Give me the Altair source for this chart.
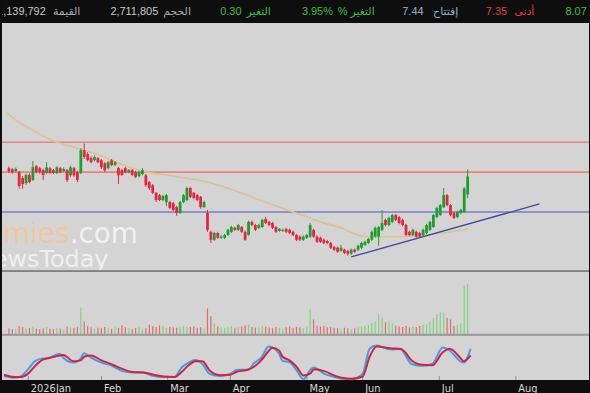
import altair as alt
import pandas as pd

# ---------------- data ----------------
opens = [8.10, 8.07, 8.03, 8.00, 7.85, 7.72, 7.93, 7.80, 8.15, 8.10,
         8.05, 7.98, 8.10, 8.05, 7.98, 8.10, 8.03, 8.05, 7.92, 8.10,
         8.00, 7.98, 8.55, 8.45, 8.35, 8.30, 8.35, 8.30, 8.22, 8.10,
         8.30, 8.18, 8.10, 8.05, 8.10, 8.00, 8.05, 8.00, 7.90, 7.95,
         7.92, 7.75, 7.67, 7.48, 7.42, 7.30, 7.25, 7.25, 7.22, 7.12,
         6.98, 7.25, 7.30, 7.60, 7.48, 7.42, 7.38, 7.12, 6.97, 6.50,
         6.30, 6.47, 6.35, 6.35, 6.42, 6.50, 6.60, 6.55, 6.62, 6.50,
         6.42, 6.75, 6.67, 6.60, 6.62, 6.82, 6.75, 6.72, 6.62, 6.52,
         6.52, 6.57, 6.55, 6.50, 6.42, 6.38, 6.30, 6.35, 6.38, 6.55,
         6.38, 6.35, 6.30, 6.27, 6.22, 6.12, 6.10, 6.02, 6.05, 6.02,
         5.95, 6.05, 6.05, 6.10, 6.17, 6.22, 6.30, 6.38, 6.38, 6.55,
         6.80, 6.67, 6.75, 6.92, 6.87, 6.80, 6.67, 6.50, 6.42, 6.50,
         6.47, 6.42, 6.47, 6.55, 6.62, 6.87, 6.92, 7.12, 7.42, 7.17,
         6.97, 6.87, 6.97, 7.00, 7.44]
closes = [8.02, 8.00, 8.08, 7.65, 7.70, 7.93, 7.75, 8.12, 8.00, 8.00,
          7.93, 8.12, 7.98, 7.98, 8.12, 8.00, 8.08, 7.80, 8.12, 7.92,
          7.80, 8.55, 8.38, 8.30, 8.25, 8.38, 8.25, 8.12, 8.05, 8.25,
          8.18, 8.25, 7.92, 7.93, 8.00, 8.05, 7.93, 7.88, 8.00, 8.05,
          7.67, 7.60, 7.48, 7.30, 7.30, 7.40, 7.42, 7.10, 7.05, 6.97,
          7.25, 7.42, 7.60, 7.38, 7.35, 7.30, 7.12, 7.25, 6.55, 6.30,
          6.47, 6.35, 6.38, 6.42, 6.55, 6.62, 6.55, 6.67, 6.50, 6.30,
          6.75, 6.67, 6.55, 6.67, 6.80, 6.72, 6.67, 6.60, 6.50, 6.57,
          6.55, 6.50, 6.47, 6.42, 6.30, 6.30, 6.38, 6.42, 6.67, 6.38,
          6.25, 6.25, 6.22, 6.22, 6.10, 6.05, 6.00, 6.10, 5.97, 5.95,
          6.05, 6.00, 6.15, 6.22, 6.25, 6.32, 6.50, 6.60, 6.62, 6.72,
          6.67, 6.85, 6.92, 6.80, 6.72, 6.67, 6.42, 6.42, 6.55, 6.38,
          6.38, 6.55, 6.67, 6.75, 6.92, 7.10, 7.17, 7.42, 7.17, 6.92,
          6.85, 7.00, 7.05, 7.59, 7.89]
highs = [8.14, 8.10, 8.12, 8.03, 7.90, 7.96, 7.97, 8.28, 8.18, 8.13,
         8.08, 8.25, 8.13, 8.08, 8.15, 8.13, 8.12, 8.08, 8.16, 8.13,
         8.03, 8.60, 8.72, 8.50, 8.40, 8.42, 8.38, 8.33, 8.25, 8.28,
         8.33, 8.28, 8.13, 8.08, 8.13, 8.08, 8.08, 8.03, 8.03, 8.10,
         7.95, 7.78, 7.70, 7.50, 7.45, 7.43, 7.45, 7.28, 7.25, 7.15,
         7.28, 7.45, 7.63, 7.63, 7.50, 7.45, 7.40, 7.28, 7.05, 6.53,
         6.50, 6.50, 6.42, 6.45, 6.58, 6.65, 6.63, 6.70, 6.65, 6.53,
         6.78, 6.78, 6.70, 6.70, 6.83, 6.88, 6.78, 6.75, 6.65, 6.60,
         6.58, 6.60, 6.58, 6.53, 6.45, 6.41, 6.41, 6.45, 6.72, 6.58,
         6.41, 6.38, 6.33, 6.30, 6.25, 6.15, 6.13, 6.17, 6.08, 6.05,
         6.08, 6.08, 6.18, 6.25, 6.28, 6.35, 6.53, 6.63, 6.65, 7.05,
         6.83, 6.88, 6.95, 6.95, 6.90, 6.83, 6.70, 6.53, 6.58, 6.53,
         6.50, 6.58, 6.70, 6.78, 6.95, 7.13, 7.20, 7.60, 7.45, 7.20,
         7.00, 7.03, 7.08, 7.62, 8.07]
lows = [7.98, 7.96, 8.00, 7.58, 7.58, 7.68, 7.72, 7.78, 7.97, 7.96,
        7.80, 7.95, 7.95, 7.95, 7.95, 7.97, 8.00, 7.75, 7.88, 7.88,
        7.75, 7.95, 8.33, 8.27, 8.22, 8.27, 8.22, 8.08, 8.00, 8.07,
        8.15, 8.15, 7.70, 7.90, 7.97, 7.97, 7.90, 7.85, 7.87, 7.92,
        7.63, 7.55, 7.45, 7.25, 7.27, 7.27, 7.15, 7.07, 7.02, 6.90,
        6.95, 7.22, 7.27, 7.35, 7.32, 7.27, 7.08, 7.10, 6.50, 6.22,
        6.27, 6.32, 6.32, 6.32, 6.40, 6.47, 6.52, 6.52, 6.47, 6.27,
        6.40, 6.64, 6.52, 6.57, 6.60, 6.70, 6.64, 6.57, 6.47, 6.50,
        6.50, 6.47, 6.44, 6.39, 6.27, 6.27, 6.27, 6.32, 6.35, 6.35,
        6.22, 6.22, 6.19, 6.19, 6.07, 6.02, 5.97, 6.00, 5.94, 5.90,
        5.92, 5.97, 6.02, 6.07, 6.14, 6.19, 6.27, 6.35, 6.15, 6.52,
        6.64, 6.64, 6.72, 6.77, 6.69, 6.64, 6.39, 6.39, 6.39, 6.35,
        6.35, 6.39, 6.44, 6.52, 6.60, 6.84, 6.90, 7.10, 7.14, 6.89,
        6.82, 6.84, 6.94, 6.97, 7.35]
volumes_k = [320, 280, 300, 450, 380, 300, 350, 420, 300, 280,
             330, 400, 300, 280, 350, 300, 260, 420, 380, 350,
             400, 1460, 700, 450, 380, 300, 350, 330, 400, 360,
             300, 420, 350, 480, 380, 330, 300, 350, 380, 300,
             330, 520, 450, 400, 480, 420, 350, 400, 380, 360,
             420, 450, 380, 400, 420, 350, 380, 330, 1410, 975,
             600, 420, 380, 350, 400, 450, 330, 380, 420, 480,
             520, 400, 350, 380, 450, 420, 380, 330, 400, 350,
             300, 380, 420, 350, 400, 380, 330, 420, 1350, 810,
             480, 420, 450, 380, 400, 350, 330, 300, 350, 330,
             280, 320, 380, 420, 450, 520, 600, 700, 1080, 900,
             650, 700, 600, 480, 420, 400, 450, 380, 420, 400,
             450, 500, 550, 700, 900, 1100, 1200, 1150, 900, 800,
             450, 500, 600, 2650, 2712]

ma_idx = [-0.55, 3, 7, 12, 20, 28, 30, 39, 48, 58, 62, 68, 74, 83, 91, 97,
          103, 108, 114, 119, 125, 131, 134]
ma_val = [9.475, 9.25, 9.05, 8.825, 8.60, 8.375, 8.30, 8.025, 7.90, 7.75,
          7.65, 7.475, 7.275, 7.00, 6.75, 6.60, 6.40, 6.375, 6.375, 6.40,
          6.45, 6.525, 6.575]

st_idx = [0, 3, 5, 7, 9, 11, 13, 16, 17, 20, 22, 23, 25, 28, 31, 34, 37,
          40, 43, 46, 49, 51, 53, 55, 57, 59, 62, 65, 67, 70, 72, 74, 76,
          77, 79, 80, 82, 84, 86, 88, 89, 92, 95, 97, 100, 103, 105, 107,
          111, 114, 115, 117, 120, 123, 126, 128, 131, 132, 134]
st_k = [9, 5, 9, 25, 43, 48, 50, 59, 50, 39, 48, 60, 50, 39, 32, 20, 17,
        17, 9, 7, 7, 28, 39, 45, 36, 14, 9, 14, 23, 23, 39, 51, 75,
        73, 59, 43, 40, 22, 2, 23, 28, 14, 7, 3, 2, 14, 70, 77,
        68, 70, 59, 36, 32, 36, 73, 66, 42, 39, 70]
st_d = [12, 7, 7, 15, 32, 45, 49, 55, 56, 42, 44, 52, 55, 44, 35, 25, 18,
        17, 12, 8, 7, 18, 33, 42, 42, 22, 11, 12, 19, 23, 31, 45, 65,
        72, 66, 52, 44, 30, 10, 15, 24, 20, 10, 5, 3, 8, 52, 75,
        71, 69, 64, 44, 34, 33, 62, 70, 50, 42, 55]

month_idx = [7, 28, 47, 65, 87, 103, 125, 147]
month_lbl = ["2026Jan", "Feb", "Mar", "Apr", "May", "Jun", "Jul", "Aug"]

level_vals = [8.75, 8.00, 7.00]
level_cols = ["#e98282", "#e98282", "#7a7fcc"]
trend_idx = [100, 155]
trend_val = [5.87, 7.20]

hdr_text = ["1,139,792", "القيمة", "2,711,805", "الحجم", "0.30", "التغير",
            "3.95%", "% التغير", "7.44", "إفتتاح", "7.35", "أدنى", "8.07"]
hdr_col = ["#c8c8c8", "#a8a8a8", "#c8c8c8", "#a8a8a8", "#3cbf4a", "#3cbf4a",
           "#3cbf4a", "#3cbf4a", "#8fb6dc", "#8fb6dc", "#e33b3b", "#e33b3b",
           "#3cbf4a"]
hdr_x = [44, 65, 133, 176, 230, 258, 317, 356, 413, 446, 497, 525, 577]
hdr_align = ["right"] + ["center"] * 12

# ---------------- frames ----------------
n = len(closes)
up = [c >= o for o, c in zip(opens, closes)]
df = pd.DataFrame({
    "i": list(range(n)), "o": opens, "c": closes, "h": highs, "l": lows,
    "v": volumes_k,
    "col": ["#1e9d2c" if u else "#e3263e" for u in up],
    "vcol": ["#7ed67e" if u else "#e46a6a" for u in up],
})
ma_df = pd.DataFrame({"i": ma_idx, "p": ma_val})
st_df = pd.DataFrame({"i": st_idx, "k": st_k, "d": st_d})
lvl_df = pd.DataFrame({"p": level_vals, "col": level_cols})
tr_df = pd.DataFrame({"i": trend_idx, "p": trend_val})
mon_df = pd.DataFrame({"i": month_idx, "lbl": month_lbl})

W = 590
XS = alt.Scale(domain=[-2 / 3.5, (W - 2) / 3.5], nice=False, zero=False)
X = alt.X("i:Q", scale=XS, axis=None)
PS = alt.Scale(domain=[5.525, 11.75], nice=False, zero=False)

# ---------------- header ----------------
one = pd.DataFrame({"k": [0]})
hdr_layers = []
for t, c, x, a in zip(hdr_text, hdr_col, hdr_x, hdr_align):
    hdr_layers.append(
        alt.Chart(one).mark_text(font="Liberation Sans, DejaVu Sans", fontSize=11,
                                 align=a, baseline="middle", color=c, clip=True)
        .encode(x=alt.value(x), y=alt.value(11), text=alt.value(t))
    )
header = alt.layer(*hdr_layers).properties(
    width=W, height=22, view=alt.ViewBackground(fill="#0e0e0e", stroke=None))

# ---------------- main price panel ----------------
base = alt.Chart(df)
levels = alt.Chart(lvl_df).mark_rule(strokeWidth=1.6).encode(
    y=alt.Y("p:Q", scale=PS, axis=None), color=alt.Color("col:N", scale=None))
ma = alt.Chart(ma_df).mark_line(color="#dcc291", strokeWidth=1.6, interpolate="monotone").encode(
    x=X, y=alt.Y("p:Q", scale=PS, axis=None))
wm1 = alt.Chart(one).mark_text(text="economies", font="DejaVu Sans", fontSize=28, align="right",
                                baseline="alphabetic", color="#f6c597", opacity=0.9, clip=True).encode(
    x=alt.value(68), y=alt.value(221))
wm2 = alt.Chart(one).mark_text(text=".com", font="DejaVu Sans", fontSize=28, align="left",
                                baseline="alphabetic", color="#f6f6f6", opacity=0.9, clip=True).encode(
    x=alt.value(68), y=alt.value(221))
wm3 = alt.Chart(one).mark_text(text="NewsToday", font="DejaVu Sans", fontSize=24, align="right",
                                baseline="alphabetic", color="#f4f4f4", opacity=0.85, clip=True).encode(
    x=alt.value(107), y=alt.value(245))
wicks = base.mark_rule(strokeWidth=1).encode(
    x=X, y=alt.Y("l:Q", scale=PS, axis=None), y2="h:Q", color=alt.Color("col:N", scale=None))
bodies = base.mark_bar(size=2.8).encode(
    x=X, y=alt.Y("o:Q", scale=PS, axis=None), y2="c:Q", color=alt.Color("col:N", scale=None))
trend = alt.Chart(tr_df).mark_line(color="#3a4a9c", strokeWidth=1.3).encode(
    x=X, y=alt.Y("p:Q", scale=PS, axis=None))
sep1 = alt.Chart(one).mark_rule(color="#8e8e8e", strokeWidth=1.5).encode(
    x=alt.value(0), x2=alt.value(W), y=alt.value(249))
main = alt.layer(levels, ma, wm1, wm2, wm3, wicks, bodies, trend, sep1).properties(
    width=W, height=249)

# ---------------- volume panel ----------------
vol = alt.Chart(df).mark_bar(size=1.2).encode(
    x=X, y=alt.Y("v:Q", scale=alt.Scale(domain=[0, 3400], nice=False), axis=None),
    color=alt.Color("vcol:N", scale=None))
sep2 = alt.Chart(one).mark_rule(color="#9a9a9a", strokeWidth=1.2).encode(
    x=alt.value(0), x2=alt.value(W), y=alt.value(63))
volume = alt.layer(vol, sep2).properties(width=W, height=63)

# ---------------- stochastic panel ----------------
SS = alt.Scale(domain=[0, 100], nice=False)
label_expr = "".join(f"datum.value == {i} ? '{l}' : " for i, l in zip(month_idx, month_lbl)) + "''"
XAX = alt.X("i:Q", scale=XS, axis=alt.Axis(
    values=month_idx, labelExpr=label_expr, labelAlign="left", labelOffset=2,
    labelPadding=2, labelColor="#d8d8d8", labelFontSize=11,
    labelFont="Liberation Sans Narrow, DejaVu Sans Condensed, Liberation Sans",
    labelBaseline="top", ticks=False, domain=False, grid=False, title=None,
    labelOverlap=False, labelBound=False, labelFlush=False))
mticks = alt.Chart(mon_df).mark_rule(color="#8a8a8a", strokeWidth=1).encode(
    x=XAX, y=alt.value(41), y2=alt.value(45))
k_line = alt.Chart(st_df).mark_line(color="#3d9fe6", strokeWidth=2, interpolate="monotone").encode(
    x=XAX, y=alt.Y("k:Q", scale=SS, axis=None))
d_line = alt.Chart(st_df).mark_line(color="#d6203f", strokeWidth=2, interpolate="monotone").encode(
    x=XAX, y=alt.Y("d:Q", scale=SS, axis=None))
stoch = alt.layer(mticks, k_line, d_line).properties(width=W, height=45)

chart = alt.vconcat(header, main, volume, stoch, spacing=0).properties(
    background="#0e0e0e", padding=0
).configure_view(fill="#d4d4d4", stroke=None, strokeWidth=0)

chart.save("out.html", embed_options={"renderer": "svg", "actions": False})
